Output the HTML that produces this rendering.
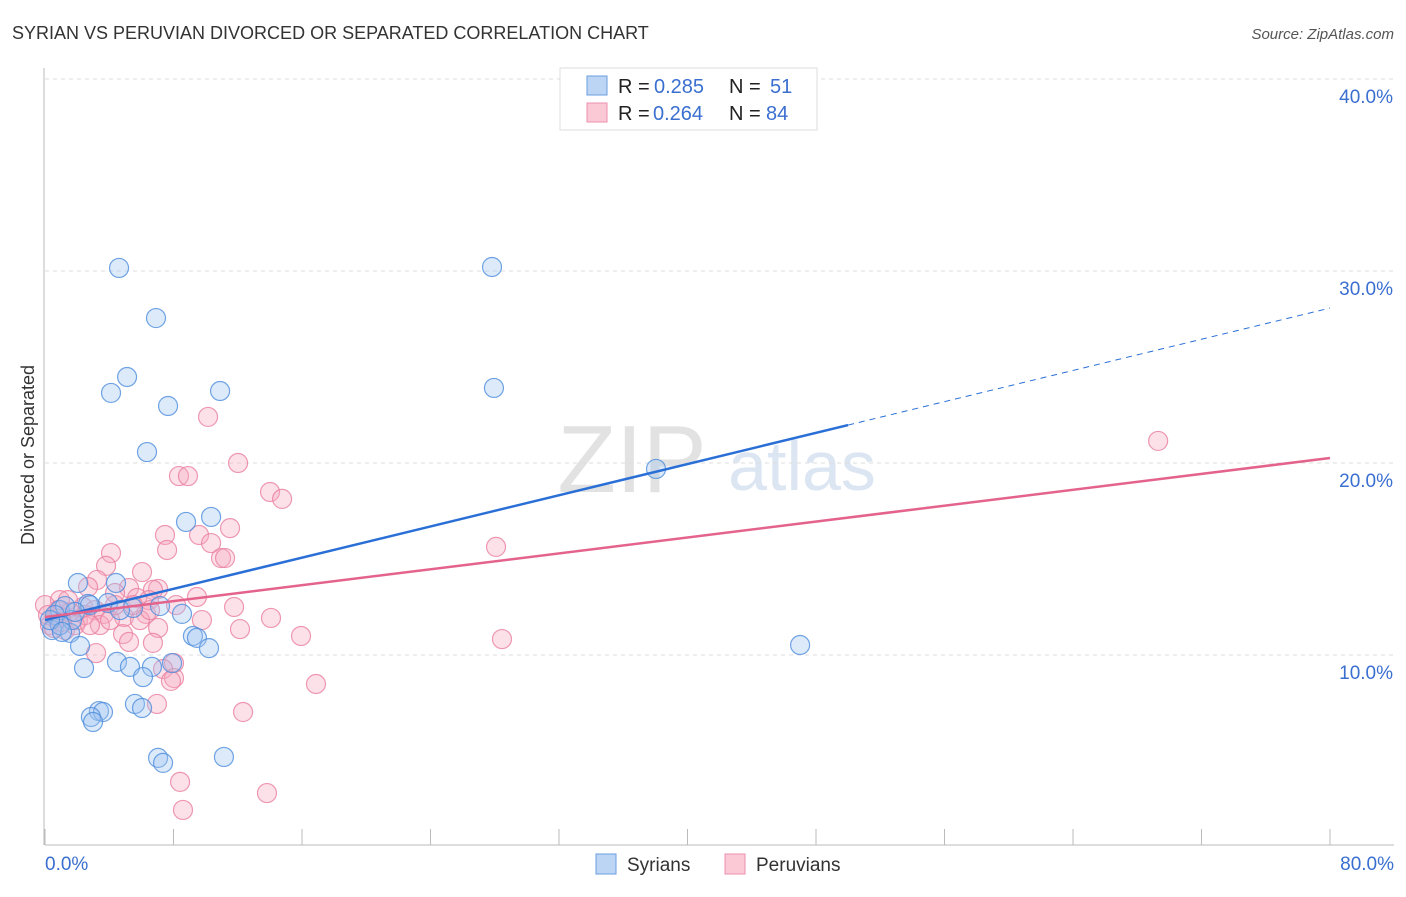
<!DOCTYPE html>
<html><head><meta charset="utf-8"><style>
body{margin:0;background:#fff;font-family:"Liberation Sans",sans-serif}
svg text{font-family:"Liberation Sans",sans-serif}
</style></head><body>
<svg id="c" width="1406" height="892" xmlns="http://www.w3.org/2000/svg">
<text x="12" y="39" font-size="18" fill="#333">SYRIAN VS PERUVIAN DIVORCED OR SEPARATED CORRELATION CHART</text>
<text x="1394" y="39" font-size="15" fill="#555" text-anchor="end" font-style="italic">Source: ZipAtlas.com</text>
<text x="632" y="492" font-size="96" fill="#e2e2e2" font-family="Liberation Serif" text-anchor="middle">ZIP</text>
<text x="802" y="490" font-size="70" fill="#dce6f3" text-anchor="middle">atlas</text>
<g id="grid"></g>
<g id="axes"></g>
<g id="pts"></g>
<g id="trend"></g>
<text transform="translate(34,455) rotate(-90)" font-size="18" fill="#333" text-anchor="middle">Divorced or Separated</text>
<g>
<rect x="560" y="68" width="257" height="62" fill="#fff" stroke="#ddd"/>
<rect x="587" y="76" width="20" height="19" fill="#bcd5f5" stroke="#6a9ee0"/>
<rect x="587" y="103" width="20" height="19" fill="#fbc8d6" stroke="#ec90ad"/>
<text x="618" y="93" font-size="20" fill="#222">R =</text>
<text x="654" y="93" font-size="20" fill="#3a6fd0">0.285</text>
<text x="729" y="93" font-size="20" fill="#222">N =</text>
<text x="770" y="93" font-size="20" fill="#3a6fd0">51</text>
<text x="618" y="120" font-size="20" fill="#222">R =</text>
<text x="653" y="120" font-size="20" fill="#3a6fd0">0.264</text>
<text x="729" y="120" font-size="20" fill="#222">N =</text>
<text x="766" y="120" font-size="20" fill="#3a6fd0">84</text>
</g>
<g>
<rect x="596" y="854" width="20" height="20" fill="#bcd5f5" stroke="#6a9ee0"/>
<text x="627" y="871" font-size="19" fill="#333">Syrians</text>
<rect x="725" y="854" width="20" height="20" fill="#fbc8d6" stroke="#ec90ad"/>
<text x="756" y="871" font-size="19" fill="#333">Peruvians</text>
</g>
</svg>
<script>
const xTicks=[0,8,16,24,32,40,48,56,64,72,80];
const yTicks=[10,20,30,40];
const syrX=[4.61,27.83,6.91,5.11,4.11,7.66,10.90,27.95,6.35,38.04,8.78,10.34,2.05,4.42,2.68,3.92,5.48,7.16,8.53,9.21,9.46,10.21,4.48,5.29,6.66,7.91,6.10,2.43,5.60,6.04,3.36,3.61,2.86,2.99,7.04,7.35,11.14,47.01,0.93,1.25,0.62,0.44,1.56,2.18,1.68,0.93,0.31,2.80,4.67,1.06,1.87];
const syrY=[30.16,30.21,27.55,24.48,23.65,22.97,23.75,23.91,20.57,19.69,16.93,17.19,13.75,13.75,12.66,12.71,12.45,12.55,12.14,10.99,10.89,10.36,9.64,9.38,9.38,9.58,8.85,9.32,7.45,7.24,7.08,7.03,6.77,6.51,4.64,4.38,4.69,10.52,12.34,12.55,12.08,11.30,11.15,10.47,11.82,11.56,11.82,12.60,12.34,11.20,12.24];
const perX=[69.30,10.15,12.02,8.34,8.90,14.01,14.76,11.52,7.47,9.59,7.60,10.34,10.96,11.21,4.11,3.80,6.04,3.24,2.68,5.23,7.04,6.72,9.46,4.36,5.73,6.47,8.16,11.77,2.37,3.11,3.67,4.92,6.29,9.77,14.07,7.04,12.14,4.86,15.94,28.45,3.18,5.23,6.72,8.03,7.35,8.03,7.84,16.87,6.97,12.33,8.41,13.82,8.59,28.08,0.93,1.56,0.31,0.62,1.25,2.05,2.49,0.81,0.0,0.19,3.42,4.05,1.87,1.43,2.80,4.36,5.91,5.48,6.54,0.56,1.06];
const perY=[21.15,22.40,20.00,19.32,19.32,18.49,18.13,16.61,16.25,16.25,15.47,15.83,15.05,15.05,15.31,14.64,14.32,13.91,13.54,13.49,13.44,13.39,13.02,13.23,12.97,12.86,12.60,12.50,12.50,12.34,12.14,11.98,12.14,11.82,11.93,11.41,11.35,11.09,10.99,10.83,10.10,10.68,10.63,9.58,9.27,8.80,8.65,8.49,7.45,7.03,3.39,2.81,1.93,15.63,12.86,12.24,11.56,11.93,11.30,11.82,12.08,12.34,12.60,12.08,11.56,11.82,11.56,12.86,11.56,12.60,11.82,12.60,12.34,11.41,11.72];
const syrTrend=[11.82,28.07]; const syrSolidEnd=50;
const perTrend=[11.98,20.26];
const X=v=>45+v/80*1285, Y=v=>847-v*19.2;
const NS="http://www.w3.org/2000/svg";
function mk(tag,attrs,parent){const e=document.createElementNS(NS,tag);for(const k in attrs)e.setAttribute(k,attrs[k]);parent.appendChild(e);return e;}
const grid=document.getElementById('grid'),axes=document.getElementById('axes'),pts=document.getElementById('pts'),trend=document.getElementById('trend');
yTicks.forEach(t=>{const l=mk('line',{x1:45,x2:1394,y1:Y(t),y2:Y(t),stroke:'#ddd','stroke-dasharray':'4,4'},grid);


const tx=mk('text',{x:1393,y:Y(t)+24,'font-size':19,fill:'#3a6fd0','text-anchor':'end'},axes);tx.textContent=t.toFixed(1)+'%';

});
const ax=mk('line',{x1:45,x2:1394,y1:845,y2:845,stroke:'#bbb'},axes);


const ay=mk('line',{x1:44,x2:44,y1:68,y2:845,stroke:'#bbb'},axes);


xTicks.forEach(t=>{const l=mk('line',{x1:X(t),x2:X(t),y1:829,y2:845,stroke:'#bbb'},axes);

});
[[0,'start',45],[80,'end',1394]].forEach(([t,a,x])=>{const tx=mk('text',{x:x,y:870,'font-size':19,fill:'#3a6fd0','text-anchor':a},axes);tx.textContent=t.toFixed(1)+'%';

});
function dots(xs,ys,fill,stroke,name){xs.forEach((v,i)=>{const c=mk('circle',{cx:X(v),cy:Y(ys[i]),r:9.5,fill:fill,'fill-opacity':0.35,stroke:stroke,'stroke-opacity':0.8,'stroke-width':1.2},pts);

});}
dots(perX,perY,'#f7a8bf','#ea7fa0','peruvian-point');
dots(syrX,syrY,'#9ec3f0','#4e8ddc','syrian-point');
const sy=v=>syrTrend[0]+(syrTrend[1]-syrTrend[0])*v/80;
const l1=mk('line',{x1:X(0),y1:Y(sy(0)),x2:X(syrSolidEnd),y2:Y(sy(syrSolidEnd)),stroke:'#2a6fd6','stroke-width':2.5},trend);


const l2=mk('line',{x1:X(syrSolidEnd),y1:Y(sy(syrSolidEnd)),x2:X(80),y2:Y(sy(80)),stroke:'#2a6fd6','stroke-width':1,'stroke-dasharray':'6,5'},trend);


const l3=mk('line',{x1:X(0),y1:Y(perTrend[0]),x2:X(80),y2:Y(perTrend[1]),stroke:'#e4638c','stroke-width':2.5},trend);


</script>
</body></html>
